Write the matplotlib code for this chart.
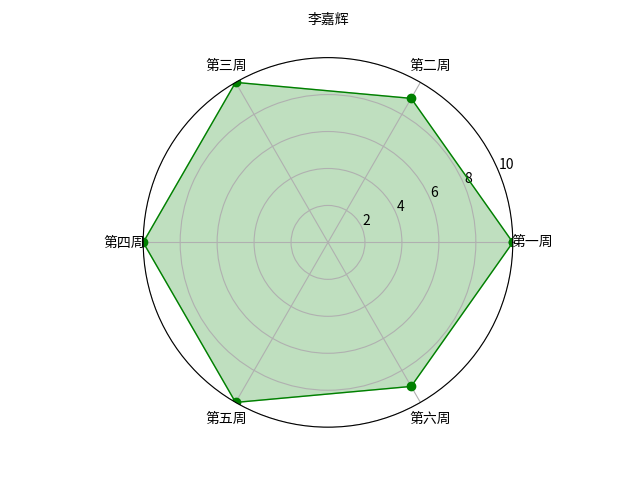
import matplotlib
matplotlib.use("Agg")
import matplotlib.pyplot as plt
import numpy as np

plt.rcParams['font.family'] = ['Noto Sans CJK SC', 'DejaVu Sans']

# weekly scores
labels = ['第一周', '第二周', '第三周', '第四周', '第五周', '第六周']
scores = [10, 9, 10, 10, 10, 9]
name = '李嘉辉'

n = len(labels)
angles = np.linspace(0, 2 * np.pi, n, endpoint=False)
# close the polygon
data = np.concatenate((scores, [scores[0]]))
angles_c = np.concatenate((angles, [angles[0]]))

fig = plt.figure(figsize=(6.4, 4.8), dpi=100)
ax = fig.add_subplot(111, polar=True)
ax.plot(angles_c, data, 'o-', color='g', linewidth=1)
ax.fill(angles_c, data, color='g', alpha=0.25)
ax.set_thetagrids(angles * 180 / np.pi, labels, fontsize=10)
ax.set_ylim(0, 10)
ax.set_yticks([2, 4, 6, 8, 10])
ax.tick_params(axis='y', labelsize=10)
ax.set_title(name, fontsize=10, y=1.07)
ax.grid(True)

plt.savefig('out.png')
